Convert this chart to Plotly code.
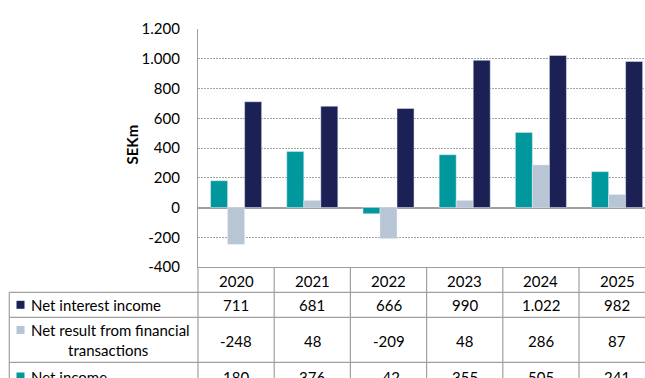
import plotly.graph_objects as go

# ---- data ----
years = ["2020", "2021", "2022", "2023", "2024", "2025"]
net_interest_income = [711, 681, 666, 990, 1022, 982]
net_result_fin_trans = [-248, 48, -209, 48, 286, 87]
net_income = [180, 376, -42, 355, 505, 241]

y_tickvals = [-400, -200, 0, 200, 400, 600, 800, 1000, 1200]
y_ticktext = ["-400", "-200", "0", "200", "400", "600", "800", "1.000", "1.200"]

NAVY = "#1B2155"
GREY_BLUE = "#B8C5D5"
TEAL = "#00979D"
LINE = "#A0A0A0"
FONT = "Lato, Carlito, Calibri, sans-serif"

# ---- figure geometry (pixels) ----
W, H = 645, 378
PL, PT, PB = 198, 29, 267          # plot left, top, bottom


def xp(x):
    return (x - PL) / (W - PL)


def yp(y):
    return (PB - y) / (PB - PT)


def fmt(v):
    return f"{v:,}".replace(",", ".")


xs = list(range(len(years)))

fig = go.Figure()
fig.add_bar(x=xs, y=net_income, name="Net income", marker_color=TEAL)
fig.add_bar(x=xs, y=net_result_fin_trans, name="Net result from financial transactions",
            marker_color=GREY_BLUE)
fig.add_bar(x=xs, y=net_interest_income, name="Net interest income", marker_color=NAVY)

fig.update_layout(
    width=W, height=H,
    margin=dict(l=PL, r=0, t=PT, b=H - PB),
    barmode="group", bargap=0.33, bargroupgap=0,
    plot_bgcolor="white", paper_bgcolor="white",
    showlegend=False,
    font=dict(family=FONT, size=15, color="#000000"),
)
fig.update_xaxes(
    range=[-0.5, -0.5 + (W - PL) / 76.2],
    showgrid=False, zeroline=False, showticklabels=False, ticks="",
    showline=True, linecolor=LINE, linewidth=1.2,
)
fig.update_yaxes(
    range=[-400, 1200], tickvals=y_tickvals, ticktext=y_ticktext,
    showgrid=True, gridcolor="#A6A6A6", gridwidth=1, griddash="2px,1px",
    zeroline=True, zerolinecolor=LINE, zerolinewidth=1.5,
    showline=True, linecolor=LINE, linewidth=1.2,
    ticks="", ticklabelstandoff=14,
    tickfont=dict(family=FONT, size=15, color="#000000"),
)

# axis title
fig.add_annotation(text="<b>SEKm</b>", textangle=-90, xref="paper", yref="paper",
                   x=xp(131.5), y=yp(145), xanchor="center", yanchor="middle",
                   showarrow=False, font=dict(size=15))

# ---- data table under the chart ----
row_lines = [292.3, 317.3, 362.3]
bottom = 400
shapes = []
for yl in row_lines:
    shapes.append(dict(type="line", xref="paper", yref="paper", x0=xp(9.3), x1=1,
                       y0=yp(yl), y1=yp(yl), line=dict(color=LINE, width=1.2)))
shapes.append(dict(type="line", xref="paper", yref="paper", x0=xp(9.3), x1=xp(9.3),
                   y0=yp(292.3), y1=yp(bottom), line=dict(color=LINE, width=1.2)))
shapes.append(dict(type="line", xref="paper", yref="paper", x0=0, x1=0,
                   y0=yp(PB), y1=yp(bottom), line=dict(color=LINE, width=1.2)))
for i in xs[:-1]:
    shapes.append(dict(type="line", xref="x", yref="paper", x0=i + 0.5, x1=i + 0.5,
                       y0=yp(PB), y1=yp(bottom), line=dict(color=LINE, width=1.2)))

rows = [
    (NAVY, ["Net interest income"], net_interest_income, 304.8, [304.8]),
    (GREY_BLUE, ["Net result from financial", "transactions"], net_result_fin_trans, 340.5, [330.0, 349.5]),
    (TEAL, ["Net income"], net_income, 376.5, [376.5]),
]

for i, yr in zip(xs, years):
    fig.add_annotation(text=yr, x=i, y=yp(280.5), xref="x", yref="paper",
                       showarrow=False, xanchor="center", yanchor="middle", font=dict(size=15))

for color, label_lines, values, yc, label_ys in rows:
    for i, v in zip(xs, values):
        fig.add_annotation(text=fmt(v), x=i, y=yp(yc), xref="x", yref="paper",
                           showarrow=False, xanchor="center", yanchor="middle", font=dict(size=15))
    # legend swatch
    sy = label_ys[0]
    shapes.append(dict(type="rect", xref="paper", yref="paper", x0=xp(16.5), x1=xp(24.5),
                       y0=yp(sy - 4), y1=yp(sy + 4), fillcolor=color, line=dict(width=0)))
    fig.add_annotation(text=label_lines[0], x=xp(29), y=yp(label_ys[0]), xref="paper", yref="paper",
                       showarrow=False, xanchor="left", yanchor="middle", font=dict(size=15))
    if len(label_lines) > 1:
        fig.add_annotation(text=label_lines[1], x=xp(108), y=yp(label_ys[1]), xref="paper",
                           yref="paper", showarrow=False, xanchor="center", yanchor="middle",
                           font=dict(size=15))

fig.update_layout(shapes=shapes)
fig.write_html("out.html")
